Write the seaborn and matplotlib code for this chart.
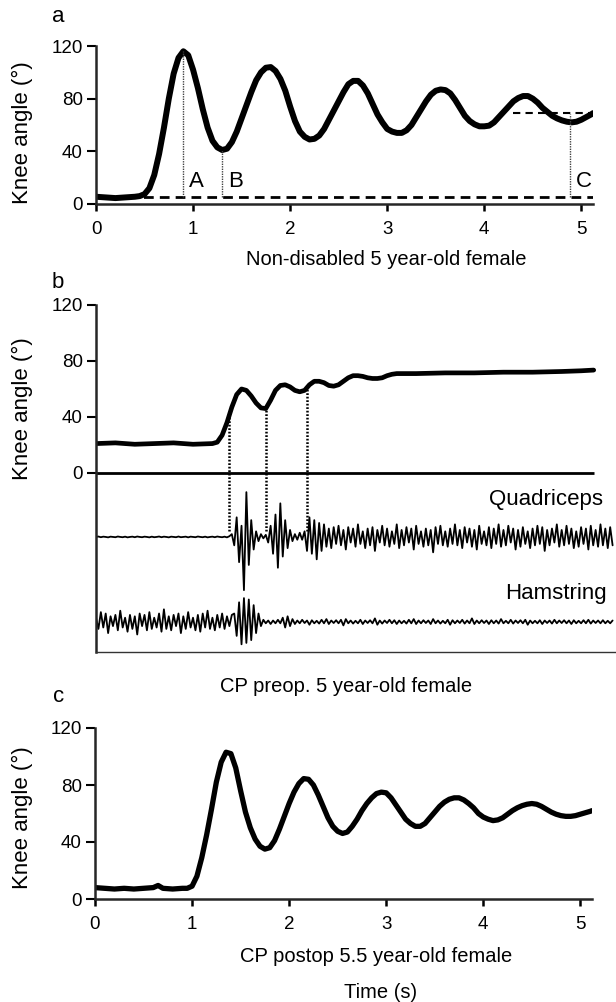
import matplotlib
matplotlib.use("Agg")
import matplotlib.pyplot as plt
import seaborn as sns
import numpy as np

sns.set_style("ticks")
plt.rcParams['font.family'] = ['Liberation Sans', 'DejaVu Sans']
plt.rcParams['text.color'] = 'black'
plt.rcParams['xtick.color'] = 'black'
plt.rcParams['ytick.color'] = 'black'

# ---------------- data ----------------
# Panel a: non-disabled child
a_time = [0, 0.1, 0.2, 0.3, 0.4,
          0.45, 0.5, 0.55, 0.6, 0.65, 0.7, 0.75, 0.8, 0.85, 0.9,
          0.95, 1.0, 1.05, 1.1, 1.15, 1.2, 1.25, 1.3, 1.35, 1.4,
          1.45, 1.5, 1.55, 1.6, 1.65, 1.7, 1.75, 1.8, 1.85, 1.9,
          1.95, 2.0, 2.05, 2.1, 2.15, 2.2, 2.25, 2.3, 2.35, 2.4,
          2.45, 2.5, 2.55, 2.6, 2.65, 2.7, 2.75, 2.8, 2.85, 2.9,
          2.95, 3.0, 3.05, 3.1, 3.15, 3.2, 3.25, 3.3, 3.35, 3.4,
          3.45, 3.5, 3.55, 3.6, 3.65, 3.7, 3.75, 3.8, 3.85, 3.9,
          3.95, 4.0, 4.05, 4.1, 4.15, 4.2, 4.25, 4.3, 4.35, 4.4,
          4.45, 4.5, 4.55, 4.6, 4.65, 4.7, 4.75, 4.8, 4.85, 4.9,
          4.95, 5.0, 5.05, 5.1, 5.12]
a_angle = [5.5, 5, 4.5, 5, 5.5,
           6, 7.5, 12, 22, 38, 58, 80, 99, 111, 116,
           113, 102, 88, 72, 58, 48, 43, 41, 42, 47,
           55, 65, 75, 85, 94, 100, 103.5, 104, 101, 95,
           86, 74, 63, 55, 51, 49, 49.5, 52, 57, 64,
           71, 78, 85, 91, 93.5, 93.5, 90, 84, 76, 68,
           62, 57, 55, 54, 54, 56, 60, 66, 72, 78,
           83, 86, 87, 86.5, 84, 79, 73, 67, 63, 60.5,
           59, 59, 59.5, 62, 66, 70, 74, 78, 80.5, 82,
           82, 80, 77, 73, 70, 67, 65, 63.5, 62.5, 62,
           62.5, 64, 66, 68, 69]
a_base_level = 5
a_mark_labels = ["A", "B", "C"]
a_mark_time = [0.90, 1.30, 4.88]
a_mark_top = [116, 41, 68]
a_final_level = 69
a_final_start = 4.30

# Panel b: CP preop
b_time = [0, 0.2, 0.4, 0.6, 0.8, 1.0, 1.2, 1.25,
          1.3, 1.35, 1.4, 1.45, 1.5, 1.55, 1.6, 1.65, 1.7, 1.75,
          1.8, 1.85, 1.9, 1.95, 2.0, 2.05, 2.1, 2.15, 2.2, 2.25,
          2.3, 2.35, 2.4, 2.45, 2.5, 2.55, 2.6, 2.65, 2.7, 2.75,
          2.8, 2.85, 2.9, 2.95, 3.0, 3.05, 3.1,
          3.3, 3.6, 3.9, 4.2, 4.5, 4.8, 5.0, 5.13]
b_angle = [21, 21.5, 20.5, 21, 21.5, 20.5, 21, 22,
           27, 36, 47, 56, 60, 59, 55, 50, 46.5, 46,
           52, 59, 62.5, 63, 61.5, 59, 58, 59, 63, 65.5,
           65.5, 64.5, 62.5, 62, 63, 65.5, 68, 69.5, 69.5, 69,
           68, 67.5, 67.5, 68, 69.5, 70.5, 71,
           71, 71.5, 71.5, 72, 72, 72.5, 73, 73.5]
b_mark_time = [1.37, 1.75, 2.17]
b_mark_top = [40, 46, 62]

emg_dt = 0.025
quadriceps = [0, 0.3, -0.2, 0.2, 0, -0.3, 0.2, 0, -0.2, 0.3,
              0, -0.2, 0.2, -0.3, 0, 0.2, -0.2, 0.3, 0, -0.2,
              0.2, 0, -0.3, 0.2, -0.2, 0, 0.3, -0.2, 0.2, 0,
              -0.3, 0.2, 0, -0.2, 0.3, -0.2, 0, 0.2, -0.3, 0.2,
              0, -0.2, 0.3, 0, -0.2, 0.2, -0.3, 0, 0.2, -0.2,
              0.3, 0, -0.2, 0.2, -0.3, 0.5,
              2, -6, 14, -18, 8, -38, 32, -20, 12, -9,
              4, -3, 2, -1, 1.5, -4, 8, -12, 16, -22,
              24, -14, 12, -8, 5, -3, 2, -2, 3, -2,
              4, -10, 14, -12, 12, -16, 10, -10, 9, -7,
              6, -8, 7, -5,
              8, -6, 5, -9, 7, -4, 6, -7, 9, -5,
              4, -8, 6, -6, 7, -10, 5, -4, 8, -6,
              6, -7, 4, -5, 9, -8, 5, -6, 7, -4,
              6, -9, 8, -5, 4, -7, 6, -6, 5, -11,
              7, -5, 8, -6, 4, -7, 6, -5, 9, -6,
              5, -8, 7, -4, 6, -7, 5, -9, 8, -5,
              4, -6, 7, -8, 6, -5, 9, -7, 5, -6,
              8, -4, 6, -9, 5, -7, 7, -5, 4, -8,
              6, -6, 8, -5, 7, -10, 5, -6, 6, -4,
              9, -7, 5, -6, 8, -5, 6, -8, 4, -7,
              7, -5, 6, -9, 8, -6, 5, -7, 9, -6,
              6, -8, 7, -6]
hamstring = [3, -5, 7, -4, 6, -8, 4, -3, 5, -6,
             8, -4, 3, -7, 5, -5, 4, -9, 6, -3,
             5, -6, 7, -5, 3, -4, 6, -7, 9, -5,
             4, -6, 5, -3, 6, -8, 4, -5, 7, -4,
             3, -6, 5, -7, 6, -4, 8, -5, 3, -6,
             5, -4, 6, -5, 4, -3, 5,
             6, -10, 14, -16, 17, -15, 16, -13, 12, -8,
             6, -3, 1.5, -1, 1, -1.5, 1, -1, 1.5, -1,
             3, -4, 4, -3, 2,
             -1.5, 1, -1, 1.5, -0.8, 1, -2, 1.2, -1, 0.8,
             -1.2, 1.5, -1, 2, -1.5, 1, -0.8, 1.2, -1, 1.5,
             -2.5, 2, -1, 1, -1.2, 0.8, -1, 1.5, -1.5, 1,
             -0.8, 1.2, -1, 2.5, -2, 1, -1.2, 1, -0.8, 1.5,
             -1, 1.2, -1.5, 1, -1, 0.8, -1.2, 1.5, -1, 2,
             -1.5, 1, -1, 1.2, -0.8, 1, -1.5, 2, -1, 1,
             -1.2, 0.8, -1, 1.5, -2, 1.2, -1, 1, -0.8, 1.5,
             -1.2, 1, -1, 2.5, -1.5, 1, -1, 1.2, -0.8, 1,
             -1.5, 1.2, -1, 1, -1.2, 2, -1, 0.8, -1, 1.5,
             -1.2, 1, -0.8, 1.2, -1, 1.5, -2, 1, -1, 0.8,
             -1, 1.2, -1.5, 1, -0.8, 1, -1.2, 1.5, -1, 1,
             -0.8, 1.2, -1, 1, -1.5, 1.2, -1, 0.8, -1, 1.2,
             -1, 1.5, -1.2, 1, -0.8, 1, -1, 1.2, -1, 0.8,
             -1, 1]

# Panel c: CP postop
c_time = [0, 0.1, 0.2, 0.3, 0.4, 0.5, 0.6, 0.65, 0.7, 0.8, 0.9, 0.95,
          1.0, 1.05, 1.1, 1.15, 1.2, 1.25, 1.3, 1.35, 1.4, 1.45,
          1.5, 1.55, 1.6, 1.65, 1.7, 1.75, 1.8, 1.85, 1.9, 1.95,
          2.0, 2.05, 2.1, 2.15, 2.2, 2.25, 2.3, 2.35, 2.4, 2.45,
          2.5, 2.55, 2.6, 2.65, 2.7, 2.75, 2.8, 2.85, 2.9, 2.95,
          3.0, 3.05, 3.1, 3.15, 3.2, 3.25, 3.3, 3.35, 3.4, 3.45,
          3.5, 3.55, 3.6, 3.65, 3.7, 3.75, 3.8, 3.85, 3.9, 3.95,
          4.0, 4.05, 4.1, 4.15, 4.2, 4.25, 4.3, 4.35, 4.4, 4.45,
          4.5, 4.55, 4.6, 4.65, 4.7, 4.75, 4.8, 4.85, 4.9, 4.95,
          5.0, 5.05, 5.1, 5.12]
c_angle = [8, 7.5, 7, 7.5, 7, 7.5, 8, 9.5, 7.5, 7, 7.5, 7.5,
           9, 16, 29, 45, 63, 82, 96, 103, 102, 92,
           76, 61, 50, 42, 37, 35, 36, 41, 49, 58,
           67, 75, 81, 84.5, 84, 80, 73, 65, 57, 51,
           47.5, 46, 47, 51, 56, 62, 67, 71, 74, 75,
           74.5, 71, 66, 61, 56, 53, 51, 51, 53, 57,
           61, 65, 68, 70, 71, 71, 69.5, 67, 64, 60,
           57.5, 56, 55, 55.5, 57, 59.5, 62, 64, 65.5, 66.5,
           67, 66.5, 65, 63, 61, 59.5, 58.5, 58, 58, 58.5,
           59.5, 60.5, 61.5, 62]

y_ticks = [0, 40, 80, 120]
x_ticks = [0, 1, 2, 3, 4, 5]

# ---------------- layout ----------------
W, H = 616, 1002
fig = plt.figure(figsize=(W / 100, H / 100), dpi=100)
FS_TICK = 13.5
FS_SUB = 14.5
FS_BIG = 16


def rect(x0, y_top, x1, y_bot):
    return [x0 / W, 1 - y_bot / H, (x1 - x0) / W, (y_bot - y_top) / H]


def ftext(x, y, s, fs, **kw):
    fig.text(x / W, 1 - y / H, s, fontsize=fs, va='center', **kw)


def style(ax, xt=True):
    sns.despine(ax=ax)
    ax.spines['left'].set_linewidth(1.8)
    ax.spines['bottom'].set_linewidth(1.8)
    ax.set_yticks(y_ticks)
    ax.tick_params(axis='y', direction='out', length=6.5, width=1.5,
                   labelsize=FS_TICK, pad=3)
    ax.tick_params(axis='x', direction='out', length=5, width=1.8,
                   labelsize=FS_TICK, pad=7)
    if xt:
        ax.set_xticks(x_ticks)
    ax.set_xlabel("")
    ax.set_ylabel("")


# Panel a
ax_a = fig.add_axes(rect(96, 46, 593, 204))
sns.lineplot(x=a_time, y=a_angle, ax=ax_a, color='black', linewidth=4.3,
             estimator=None, sort=False, solid_capstyle='round')
ax_a.set_xlim(0, a_time[-1])
ax_a.set_ylim(0, 120)
ax_a.hlines(a_base_level, 0, a_time[-1], colors='black', linewidth=2,
            linestyles=(0, (3.5, 2.2)))
ax_a.hlines(a_final_level, a_final_start, a_time[-1], colors='black',
            linewidth=1.5, linestyles=(0, (3.5, 2.5)))
ax_a.vlines(a_mark_time, a_base_level, a_mark_top, colors='#444444',
            linewidth=1.0, linestyles=(0, (1, 0.8)))
for lab, t in zip(a_mark_labels, a_mark_time):
    ax_a.text(t + 0.06, 17, lab, fontsize=FS_BIG, ha='left', va='center')
style(ax_a)

# Panel b
ax_b = fig.add_axes(rect(96, 305, 616, 652))
sns.lineplot(x=b_time, y=b_angle, ax=ax_b, color='black', linewidth=3.4,
             estimator=None, sort=False, solid_capstyle='round')
ax_b.hlines(0, 0, b_time[-1], colors='black', linewidth=2)
q_base, h_base = -45.7, -106.4
q_time = np.arange(len(quadriceps)) * emg_dt
h_time = np.arange(len(hamstring)) * emg_dt
sns.lineplot(x=q_time, y=np.array(quadriceps) + q_base, ax=ax_b,
             color='black', linewidth=1.3, estimator=None, sort=False)
sns.lineplot(x=h_time, y=np.array(hamstring) + h_base, ax=ax_b,
             color='black', linewidth=1.3, estimator=None, sort=False)
ax_b.vlines(b_mark_time, q_base + 4, b_mark_top, colors='black',
            linewidth=1.8, linestyles=(0, (0.7, 0.7)))
ax_b.set_xlim(0, 5.36)
ax_b.set_ylim(-127.9, 120)
style(ax_b, xt=False)
ax_b.set_xticks([])
ax_b.spines['bottom'].set_linewidth(1.0)
ax_b.spines['bottom'].set_color('#333333')

# Panel c
ax_c = fig.add_axes(rect(95, 728, 592, 899))
sns.lineplot(x=c_time, y=c_angle, ax=ax_c, color='black', linewidth=3.8,
             estimator=None, sort=False, solid_capstyle='round')
ax_c.set_xlim(0, c_time[-1])
ax_c.set_ylim(0, 120)
style(ax_c)

# ---------------- texts ----------------
ftext(58, 16, "a", FS_BIG, ha='center')
ftext(58, 283, "b", FS_BIG, ha='center')
ftext(59, 697, "c", FS_BIG, ha='center')
for yc in (133, 409, 818):
    fig.text(22 / W, 1 - yc / H, "Knee angle (°)", fontsize=FS_BIG,
             rotation=90, ha='center', va='center')
ftext(386, 259, "Non-disabled 5 year-old female", FS_SUB, ha='center')
ftext(346, 687, "CP preop. 5 year-old female", FS_SUB, ha='center')
ftext(376, 957, "CP postop 5.5 year-old female", FS_SUB, ha='center')
ftext(381, 992, "Time (s)", FS_SUB, ha='center')
ftext(603, 500, "Quadriceps", FS_BIG, ha='right')
ftext(607, 593, "Hamstring", FS_BIG, ha='right')

fig.savefig("out.png", dpi=100, facecolor='white')
